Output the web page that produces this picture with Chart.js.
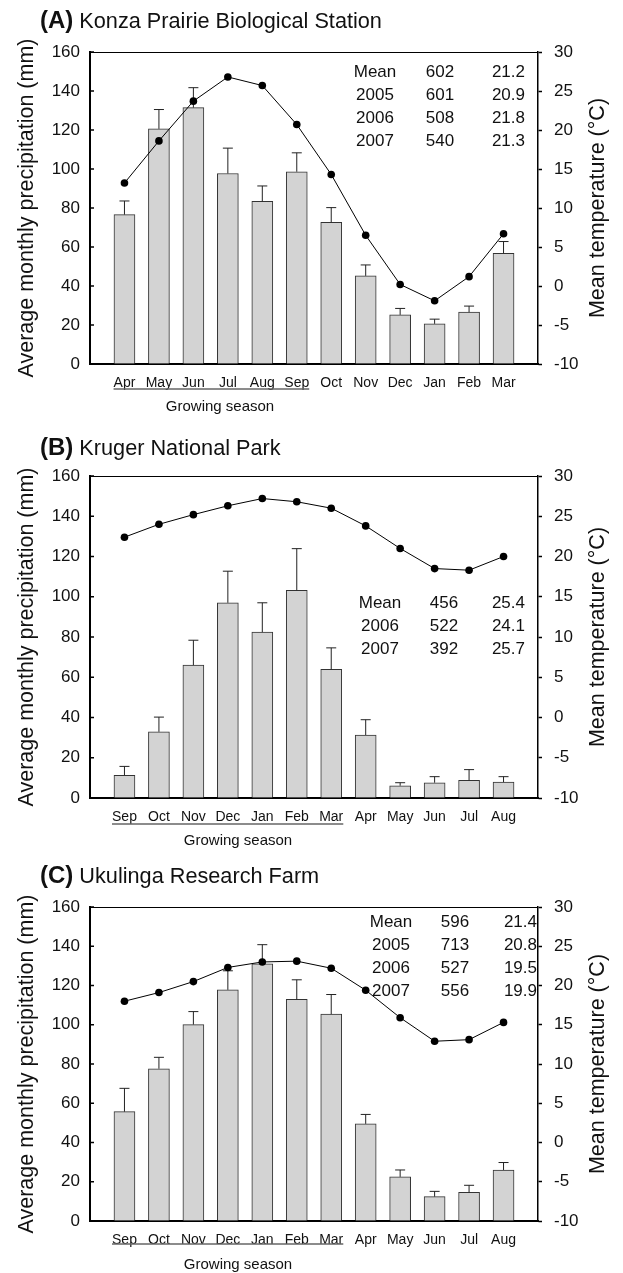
<!DOCTYPE html>
<html>
<head>
<meta charset="utf-8">
<script src="https://cdn.jsdelivr.net/npm/chart.js@4.4.1/dist/chart.umd.min.js"></script>
<style>
  body { margin: 0; background: #fff; }
  canvas { position: absolute; left: 0; }
</style>
</head>
<body>
<canvas id="panel-a" width="623" height="420" style="top:0"></canvas>
<canvas id="panel-b" width="623" height="432" style="top:420px"></canvas>
<canvas id="panel-c" width="623" height="433" style="top:840px"></canvas>
<script>
// (A) Konza Prairie
var monthsA = ['Apr', 'May', 'Jun', 'Jul', 'Aug', 'Sep', 'Oct', 'Nov', 'Dec', 'Jan', 'Feb', 'Mar'];
var rainA = [76.6, 120.6, 131.5, 97.7, 83.4, 98.6, 72.7, 45.2, 25.2, 20.6, 26.6, 56.8];
var errA = [7.0, 9.9, 10.2, 13.0, 7.9, 9.7, 7.5, 5.6, 3.3, 2.4, 3.1, 6.0];
var tempA = [13.2, 18.6, 23.7, 26.8, 25.7, 20.7, 14.3, 6.5, 0.2, -1.9, 1.2, 6.7];
var tableA = [['Mean', '602', '21.2'], ['2005', '601', '20.9'], ['2006', '508', '21.8'], ['2007', '540', '21.3']];

// (B) Kruger
var monthsB = ['Sep', 'Oct', 'Nov', 'Dec', 'Jan', 'Feb', 'Mar', 'Apr', 'May', 'Jun', 'Jul', 'Aug'];
var rainB = [11.3, 32.9, 66.0, 97.0, 82.4, 103.2, 63.9, 31.3, 6.1, 7.6, 8.8, 7.9];
var errB = [4.4, 7.3, 12.4, 15.7, 14.6, 20.7, 10.7, 7.6, 1.5, 3.0, 5.3, 2.7];
var tempB = [22.4, 24.0, 25.2, 26.3, 27.2, 26.8, 26.0, 23.8, 21.0, 18.5, 18.3, 20.0];
var tableB = [['Mean', '456', '25.4'], ['2006', '522', '24.1'], ['2007', '392', '25.7']];

// (C) Ukulinga
var monthsC = ['Sep', 'Oct', 'Nov', 'Dec', 'Jan', 'Feb', 'Mar', 'Apr', 'May', 'Jun', 'Jul', 'Aug'];
var rainC = [55.7, 77.6, 100.1, 117.8, 131.1, 112.9, 105.4, 49.5, 22.5, 12.4, 14.6, 26.0];
var errC = [11.9, 5.8, 6.6, 9.7, 9.7, 10.0, 10.0, 4.8, 3.5, 2.7, 3.6, 3.8];
var tempC = [18.0, 19.1, 20.5, 22.3, 23.0, 23.1, 22.2, 19.4, 15.9, 12.9, 13.1, 15.3];
var tableC = [['Mean', '596', '21.4'], ['2005', '713', '20.8'], ['2006', '527', '19.5'], ['2007', '556', '19.9']];

var rainTicks = [0, 160, 20];
var tempTicks = [-10, 30, 5];

Chart.defaults.font.family = "'Liberation Sans', Arial, sans-serif";
Chart.defaults.color = '#111';

var ink = '#111';

var extras = {
    id: 'extras',
    afterDatasetDraw: function (chart, args, o) {
        if (args.index !== 0) return;
        var ctx = chart.ctx, y = chart.scales.y;
        var meta = chart.getDatasetMeta(0);
        ctx.save();
        ctx.strokeStyle = '#222';
        ctx.lineWidth = 1;
        o.err.forEach(function (e, i) {
            var bar = meta.data[i + 1];
            var v = o.rain[i];
            var y0 = y.getPixelForValue(v), y1 = y.getPixelForValue(v + e);
            ctx.beginPath();
            ctx.moveTo(bar.x, y0);
            ctx.lineTo(bar.x, y1);
            ctx.moveTo(bar.x - 5, y1);
            ctx.lineTo(bar.x + 5, y1);
            ctx.stroke();
        });
        ctx.restore();
    },
    afterDraw: function (chart, args, o) {
        var ctx = chart.ctx, a = chart.chartArea, x = chart.scales.x, y = chart.scales.y;
        ctx.save();

        // top frame line
        ctx.strokeStyle = '#000';
        ctx.lineWidth = 1;
        ctx.beginPath();
        ctx.moveTo(a.left, a.top + 0.5);
        ctx.lineTo(a.right, a.top + 0.5);
        ctx.stroke();

        // inward ticks on the left axis
        ctx.lineWidth = 1.5;
        y.ticks.forEach(function (t) {
            var ty = y.getPixelForValue(t.value);
            ctx.beginPath();
            ctx.moveTo(a.left, ty);
            ctx.lineTo(a.left + 4, ty);
            ctx.stroke();
        });

        // panel title
        ctx.fillStyle = ink;
        ctx.textBaseline = 'alphabetic';
        ctx.textAlign = 'left';
        ctx.font = "bold 24px 'Liberation Sans', Arial, sans-serif";
        ctx.fillText(o.letter, 40, o.titleY);
        var w = ctx.measureText(o.letter).width;
        ctx.font = "21.7px 'Liberation Sans', Arial, sans-serif";
        ctx.fillText(o.title, 46 + w, o.titleY);

        // right axis title, reading upwards
        ctx.save();
        ctx.translate(598, (a.top + a.bottom) / 2);
        ctx.rotate(-Math.PI / 2);
        ctx.textAlign = 'center';
        ctx.textBaseline = 'middle';
        ctx.font = "21.5px 'Liberation Sans', Arial, sans-serif";
        ctx.fillText('Mean temperature (°C)', 0, 0);
        ctx.restore();

        // summary table
        ctx.font = "17px 'Liberation Sans', Arial, sans-serif";
        o.table.forEach(function (row, r) {
            var ty = o.tableY + r * 23;
            ctx.textAlign = 'center';
            ctx.fillText(row[0], o.tableX[0], ty);
            ctx.fillText(row[1], o.tableX[1], ty);
            ctx.textAlign = 'right';
            ctx.fillText(row[2], o.tableX[2], ty);
        });

        // growing season underline
        ctx.font = "14px 'Liberation Sans', Arial, sans-serif";
        var first = o.months[0], last = o.months[o.season - 1];
        var x0 = x.getPixelForValue(1) - ctx.measureText(first).width / 2;
        var x1 = x.getPixelForValue(o.season) + ctx.measureText(last).width / 2;
        ctx.strokeStyle = '#666';
        ctx.lineWidth = 1.5;
        ctx.beginPath();
        ctx.moveTo(x0, o.lineY);
        ctx.lineTo(x1, o.lineY);
        ctx.stroke();
        ctx.font = "15px 'Liberation Sans', Arial, sans-serif";
        ctx.textAlign = 'center';
        ctx.fillText('Growing season', o.seasonX, o.seasonY);

        ctx.restore();
    }
};

function panel(id, p) {
    var canvas = document.getElementById(id);
    var h = canvas.height;
    var labels = [''].concat(p.months, ['']);
    return new Chart(canvas.getContext('2d'), {
        type: 'bar',
        data: {
            labels: labels,
            datasets: [{
                type: 'bar',
                data: [null].concat(p.rain, [null]),
                yAxisID: 'y',
                order: 2,
                backgroundColor: '#d3d3d3',
                borderColor: '#333',
                borderWidth: 1,
                barThickness: 21
            }, {
                type: 'line',
                data: [null].concat(p.temp, [null]),
                yAxisID: 'y1',
                order: 1,
                borderColor: '#000',
                borderWidth: 1,
                pointRadius: 3.8,
                pointBackgroundColor: '#000',
                pointBorderWidth: 0,
                tension: 0
            }]
        },
        options: {
            responsive: false,
            animation: false,
            layout: { padding: { top: p.top, left: 0, right: 0, bottom: 0 } },
            plugins: {
                legend: { display: false },
                tooltip: { enabled: false },
                extras: {
                    rain: p.rain, err: p.err, months: p.months, table: p.table,
                    letter: p.letter, title: p.title, titleY: p.titleY,
                    tableX: p.tableX, tableY: p.tableY, season: p.season,
                    lineY: p.lineY, seasonX: p.seasonX, seasonY: p.seasonY
                }
            },
            scales: {
                x: {
                    offset: false,
                    grid: { display: false },
                    border: { color: '#000', width: 2 },
                    ticks: { font: { size: 14 }, padding: 3, autoSkip: false, maxRotation: 0 },
                    afterFit: function (s) { s.height = h - p.bottom; }
                },
                y: {
                    position: 'left',
                    min: rainTicks[0], max: rainTicks[1],
                    ticks: { stepSize: rainTicks[2], font: { size: 17 }, padding: 10 },
                    grid: { drawOnChartArea: false, drawTicks: false },
                    border: { color: '#000', width: 2 },
                    title: {
                        display: true,
                        text: 'Average monthly precipitation (mm)',
                        font: { size: 21.5 },
                        padding: { top: 14, bottom: 0 }
                    },
                    afterFit: function (s) { s.width = 90; }
                },
                y1: {
                    position: 'right',
                    min: tempTicks[0], max: tempTicks[1],
                    ticks: { stepSize: tempTicks[2], font: { size: 17 }, padding: 12 },
                    grid: { drawOnChartArea: false, tickLength: 4, color: '#000', tickWidth: 1.5 },
                    border: { color: '#000', width: 1.5 },
                    afterFit: function (s) { s.width = 623 - 538; }
                }
            }
        },
        plugins: [extras]
    });
}

panel('panel-a', {
    months: monthsA, rain: rainA, err: errA, temp: tempA, table: tableA,
    letter: '(A)', title: 'Konza Prairie Biological Station', titleY: 28,
    top: 52, bottom: 364, tableX: [375, 440, 525], tableY: 77,
    season: 6, lineY: 389, seasonX: 220, seasonY: 411
});

panel('panel-b', {
    months: monthsB, rain: rainB, err: errB, temp: tempB, table: tableB,
    letter: '(B)', title: 'Kruger National Park', titleY: 35,
    top: 56, bottom: 378, tableX: [380, 444, 525], tableY: 188,
    season: 7, lineY: 404, seasonX: 238, seasonY: 425
});

panel('panel-c', {
    months: monthsC, rain: rainC, err: errC, temp: tempC, table: tableC,
    letter: '(C)', title: 'Ukulinga Research Farm', titleY: 43,
    top: 67, bottom: 381, tableX: [391, 455, 537], tableY: 87,
    season: 7, lineY: 404, seasonX: 238, seasonY: 429
});
</script>
</body>
</html>
